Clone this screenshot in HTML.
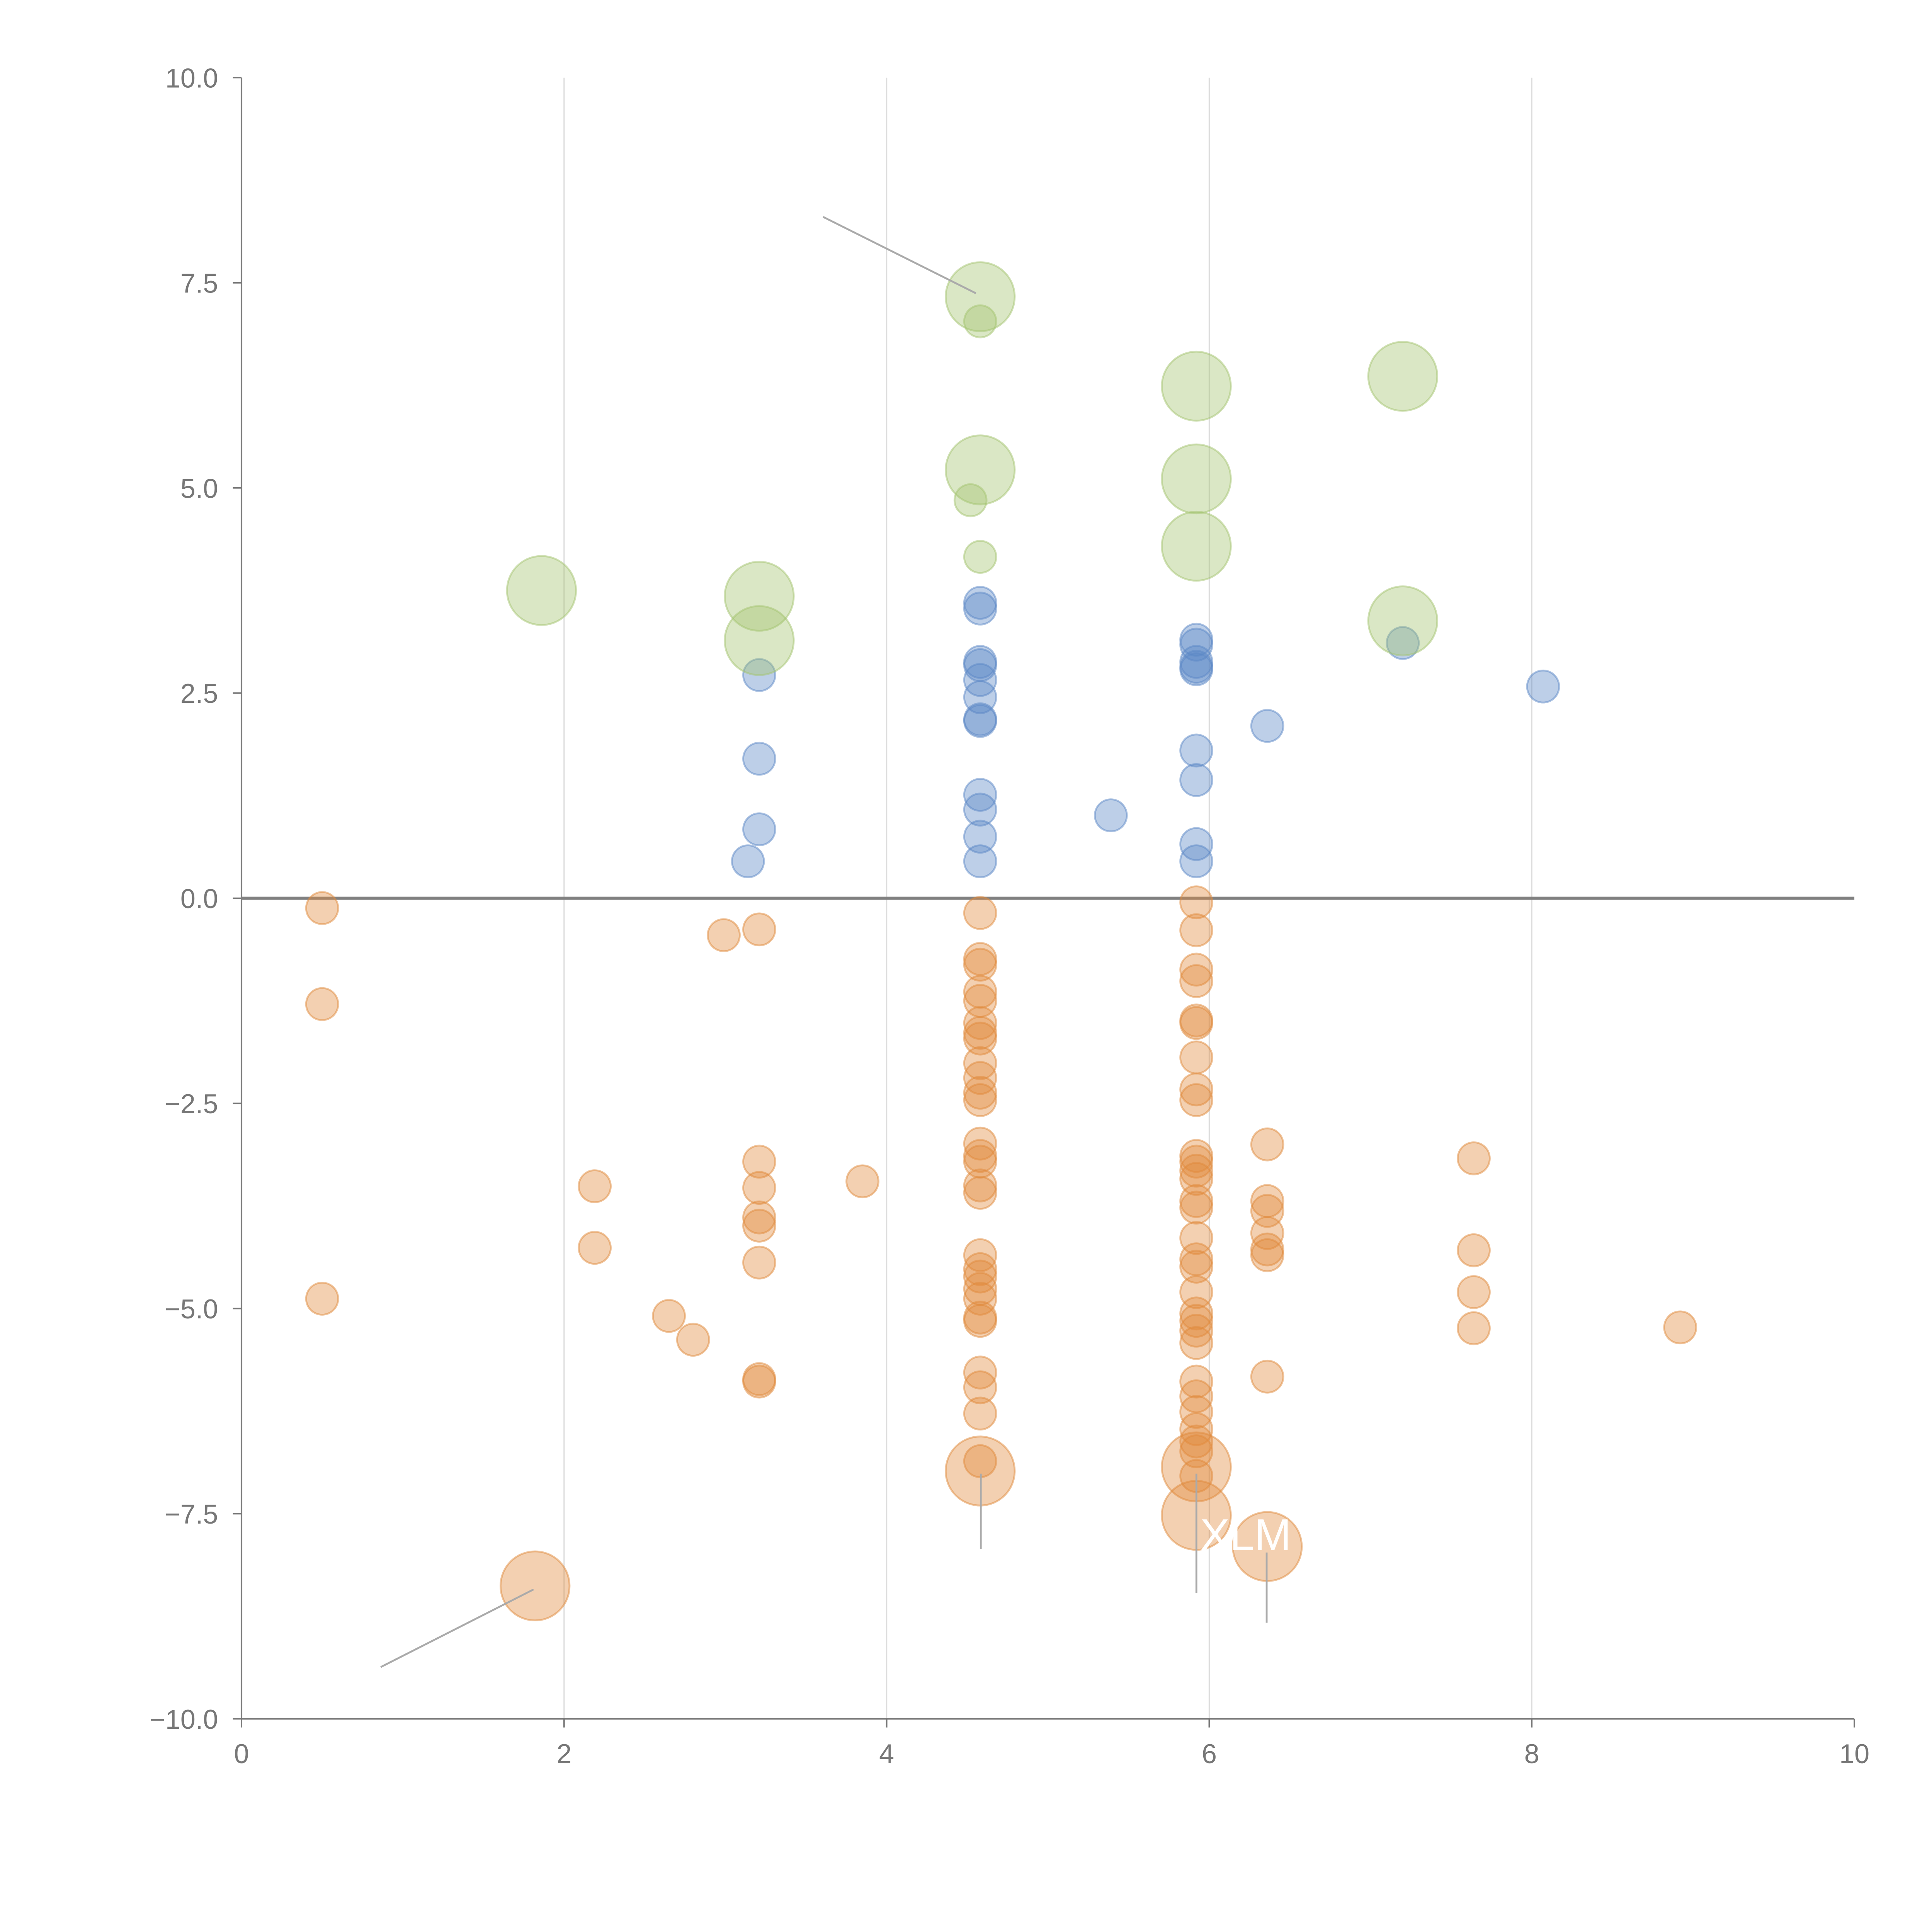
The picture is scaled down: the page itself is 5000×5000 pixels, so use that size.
<!DOCTYPE html>
<html><head><meta charset="utf-8"><style>html,body{margin:0;padding:0;background:#fff}svg{display:block}</style></head>
<body>
<svg id="chart" width="5000" height="5000" viewBox="0 0 1568 1568" xmlns="http://www.w3.org/2000/svg" font-family="Liberation Sans, sans-serif">
<g id="grid"></g>
<g id="axes"></g>
<g id="marks"></g>
<g id="notes"></g>
</svg>
<script>
const xTicks=[0,2,4,6,8,10];
const yTicks=[-10,-7.5,-5,-2.5,0,2.5,5,7.5,10];
const greenX=[4.58,4.58,5.92,7.2,4.58,5.92,4.52,4.58,5.92,1.86,3.21,3.21,7.2];
const greenY=[7.33,7.03,6.24,6.36,5.22,5.11,4.85,4.16,4.29,3.75,3.68,3.14,3.38];
const greenSize=[2,1,2,2,2,2,1,1,2,2,2,2,2];
const blueX=[4.58,4.58,4.58,4.58,4.58,4.58,4.58,4.58,4.58,4.58,4.58,4.58,5.92,5.92,5.92,5.92,5.92,5.92,5.92,5.92,5.92,3.21,3.21,3.21,3.14,6.36,7.2,8.07,5.39];
const blueY=[3.60,3.53,2.88,2.84,2.66,2.45,2.18,2.16,1.26,1.08,0.75,0.45,3.15,3.09,2.88,2.82,2.79,1.80,1.44,0.66,0.45,2.72,1.70,0.84,0.45,2.10,3.11,2.58,1.01];
const orangeX=[0.5,0.5,0.5,2.19,2.19,2.65,2.8,2.99,3.21,3.21,3.21,3.21,3.21,3.21,3.21,3.21,3.85,
4.58,4.58,4.58,4.58,4.58,4.58,4.58,4.58,4.58,4.58,4.58,4.58,4.58,4.58,4.58,4.58,4.58,4.58,4.58,4.58,4.58,4.58,4.58,4.58,4.58,4.58,4.58,4.58,
5.92,5.92,5.92,5.92,5.92,5.92,5.92,5.92,5.92,5.92,5.92,5.92,5.92,5.92,5.92,5.92,5.92,5.92,5.92,5.92,5.92,5.92,5.92,5.92,5.92,5.92,5.92,5.92,5.92,5.92,
6.36,6.36,6.36,6.36,6.36,6.36,6.36,7.64,7.64,7.64,7.64,8.92,
4.58,5.92,5.92,6.36,1.82];
const orangeY=[-0.12,-1.29,-4.88,-3.51,-4.26,-5.09,-5.38,-0.45,-0.38,-3.21,-3.53,-3.89,-3.99,-4.44,-5.86,-5.89,-3.45,
-0.18,-0.74,-0.81,-1.14,-1.25,-1.52,-1.64,-1.71,-2.01,-2.19,-2.37,-2.46,-2.99,-3.14,-3.21,-3.50,-3.59,-4.35,-4.52,-4.61,-4.76,-4.88,-5.11,-5.15,-5.78,-5.96,-6.28,-6.86,
-0.05,-0.39,-0.87,-1.01,-1.49,-1.52,-1.94,-2.33,-2.46,-3.14,-3.21,-3.32,-3.42,-3.69,-3.77,-4.14,-4.40,-4.49,-4.80,-5.06,-5.15,-5.27,-5.42,-5.89,-6.07,-6.26,-6.47,-6.62,-6.74,-7.04,
-3.0,-3.69,-3.81,-4.08,-4.28,-4.35,-5.83,-3.17,-4.29,-4.80,-5.24,-5.23,
-6.98,-6.93,-7.52,-7.90,-8.38];
const orangeSize=[];for(let i=0;i<orangeX.length;i++)orangeSize.push(i>=orangeX.length-5?2:1);

const L=196,R=1505,T=63,B=1395;
const sx=v=>L+(v-0)/(10-0)*(R-L);
const sy=v=>B-(v+10)/20*(B-T);
const NS='http://www.w3.org/2000/svg';
function mk(tag,attrs,parent){const e=document.createElementNS(NS,tag);for(const k in attrs)e.setAttribute(k,attrs[k]);parent.appendChild(e);return e;}
const grid=document.getElementById('grid'),axes=document.getElementById('axes'),marks=document.getElementById('marks'),notes=document.getElementById('notes');
xTicks.forEach(t=>{
  if(t>0&&t<10){const g=mk('line',{x1:sx(t),x2:sx(t),y1:T,y2:B,stroke:'#dddddd','stroke-width':1},grid);
  
  }
  const tk=mk('line',{x1:sx(t),x2:sx(t),y1:B,y2:B+7,stroke:'#777','stroke-width':1.2},axes);
  
  
  const lb=mk('text',{x:sx(t),y:B+36,'text-anchor':'middle','font-size':22,fill:'#777'},axes);
  lb.textContent=String(t);
  
  
});
yTicks.forEach(t=>{
  const tk=mk('line',{x1:L-7,x2:L,y1:sy(t),y2:sy(t),stroke:'#777','stroke-width':1.2},axes);
  
  
  const lb=mk('text',{x:L-19,y:sy(t)+8,'text-anchor':'end','font-size':22,fill:'#777'},axes);
  lb.textContent=(t<0?'\u2212':'')+Math.abs(t).toFixed(1);
  
  
});
const xa=mk('line',{x1:L,x2:R,y1:B,y2:B,stroke:'#777','stroke-width':1.3},axes);


const ya=mk('line',{x1:L,x2:L,y1:T,y2:B,stroke:'#777','stroke-width':1.3},axes);


const zl=mk('line',{x1:L,x2:R,y1:sy(0),y2:sy(0),stroke:'#808080','stroke-width':2.5},axes);



function series(xs,ys,sz,fill,stroke,name){
  for(let i=0;i<xs.length;i++){
    const c=mk('circle',{cx:sx(xs[i]),cy:sy(ys[i]),r:sz[i]===2?28:13,fill:fill,'fill-opacity':0.4,stroke:stroke,'stroke-opacity':0.5,'stroke-width':1.5},marks);
    
    
  }
}
series(orangeX,orangeY,orangeSize,'#e08a3c','#e08a3c','orange-bubble');
series(blueX,blueY,blueX.map(()=>1),'#5b87c5','#5b87c5','blue-bubble');
series(greenX,greenY,greenSize,'#a3c36f','#a3c36f','green-bubble');

[[668,176,792,238],[309,1353,433,1290],[796,1196,796,1257],[971,1196,971,1293],[1028,1260,1028,1317]].forEach(p=>{
  const l=mk('line',{x1:p[0],y1:p[1],x2:p[2],y2:p[3],stroke:'#aaa','stroke-width':1.5},notes);
  
  
});
const t1=mk('text',{x:974,y:1258,'font-size':36,fill:'#fff'},notes);
t1.textContent='XLM';


</script>
</body></html>
